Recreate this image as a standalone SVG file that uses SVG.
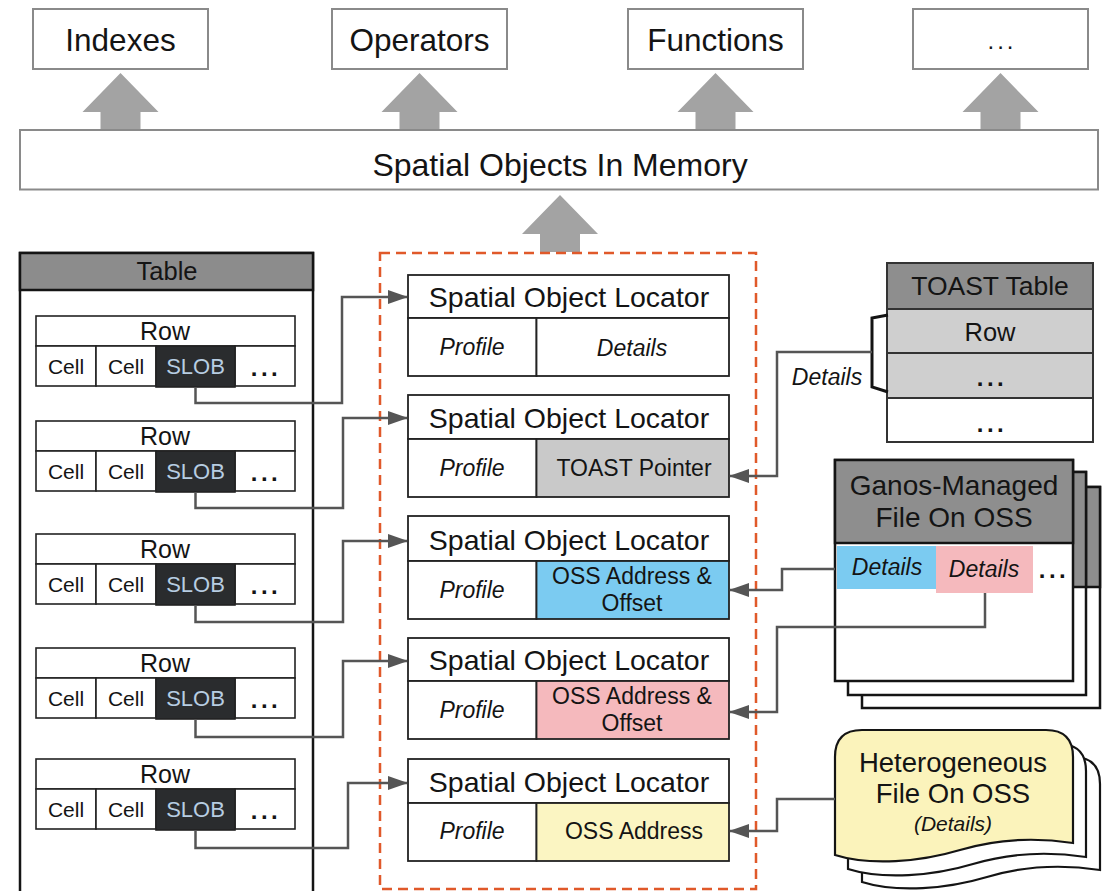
<svg xmlns="http://www.w3.org/2000/svg" width="1102" height="891" viewBox="0 0 1102 891">
  <style>
    text { font-family: "Liberation Sans", Arial, sans-serif; fill: #141414; text-anchor: middle; }
    .top { fill: #fff; stroke: #8a8a8a; stroke-width: 2; }
    .lbl { font-size: 31.5px; }
    .big { fill: #a3a3a3; }
    .tbl { fill: #fff; stroke: #141414; stroke-width: 2.5; }
    .hdr { fill: #8c8c8c; stroke: #141414; stroke-width: 2.5; }
    .cell { fill: #fff; stroke: #222; stroke-width: 1.6; }
    .slob { fill: #2a2c2e; stroke: #222; stroke-width: 1.6; }
    .rowt { font-size: 25px; }
    .cellt { font-size: 21px; }
    .dots { font-size: 24px; letter-spacing: 3.5px; font-weight: bold; }
    .slobt { font-size: 22px; fill: #b7cde2; }
    .loc { fill: #fff; stroke: #222; stroke-width: 1.8; }
    .loct { font-size: 28.5px; }
    .it { font-style: italic; font-size: 23px; }
    .mid { font-size: 23px; }
    .conn { fill: none; stroke: #555; stroke-width: 2.5; }
    .dash { fill: none; stroke: #e0592a; stroke-width: 2.5; stroke-dasharray: 10 6; }
    .dk { stroke: #141414; stroke-width: 2.5; }
  </style>
  <defs>
    <marker id="ah" markerUnits="userSpaceOnUse" viewBox="0 0 20 14" refX="19" refY="7" markerWidth="20" markerHeight="14" orient="auto">
      <path d="M0,0 L20,7 L0,14 Z" fill="#555"/>
    </marker>
    <!-- block arrow pointing up, tip at (0,0) -->
    <polygon id="up" class="big" points="0,0 38,39 20,39 20,57 -20,57 -20,39 -38,39"/>
    <path id="doc" d="M835,757 Q835,730 862,730 H1046 Q1073,730 1073,757 V843 C1040,838 1000,838 960,850 C920,862 870,866 835,855 Z"/>
  </defs>

  <!-- consumers of in-memory objects -->
  <g id="indexes">
    <rect class="top" x="33" y="9" width="175" height="60"/>
    <text class="lbl" x="120.5" y="51">Indexes</text>
  </g>
  <g id="operators">
    <rect class="top" x="332" y="9" width="175" height="60"/>
    <text class="lbl" x="419.5" y="51">Operators</text>
  </g>
  <g id="functions">
    <rect class="top" x="628" y="9" width="175" height="60"/>
    <text class="lbl" x="715.5" y="51">Functions</text>
  </g>
  <g id="more">
    <rect class="top" x="913" y="9" width="175" height="60"/>
    <text x="1002" y="49" font-size="24" letter-spacing="3">...</text>
  </g>

  <g id="block-arrows">
    <use href="#up" x="120.5" y="73"/>
    <use href="#up" x="419.5" y="73"/>
    <use href="#up" x="715.5" y="73"/>
    <use href="#up" x="1000.5" y="73"/>
    <use href="#up" x="560" y="195"/>
  </g>

  <g id="memory">
    <rect class="top" x="20" y="130" width="1078" height="59.5"/>
    <text x="560" y="176" font-size="32">Spatial Objects In Memory</text>
  </g>

  <!-- main table with rows -->
  <g id="table">
    <rect class="tbl" x="20" y="253" width="293" height="650"/>
    <rect class="hdr" x="20" y="253" width="293" height="37"/>
    <text x="167" y="280" font-size="25.5">Table</text>
  </g>
  <g id="row1" transform="translate(0,316)">
    <rect class="cell" x="36" y="0" width="259" height="30"/>
    <rect class="cell" x="36" y="30" width="60" height="40"/>
    <rect class="cell" x="96" y="30" width="60" height="40"/>
    <rect class="cell" x="235" y="30" width="60" height="40"/>
    <rect class="slob" x="156" y="30" width="79" height="41"/>
    <text class="rowt" x="165" y="23.5">Row</text>
    <text class="cellt" x="66" y="58">Cell</text>
    <text class="cellt" x="126" y="58">Cell</text>
    <text class="slobt" x="195.5" y="58">SLOB</text>
    <text class="dots" x="266" y="60">...</text>
  </g>
  <g id="row2" transform="translate(0,421)">
    <rect class="cell" x="36" y="0" width="259" height="30"/>
    <rect class="cell" x="36" y="30" width="60" height="40"/>
    <rect class="cell" x="96" y="30" width="60" height="40"/>
    <rect class="cell" x="235" y="30" width="60" height="40"/>
    <rect class="slob" x="156" y="30" width="79" height="41"/>
    <text class="rowt" x="165" y="23.5">Row</text>
    <text class="cellt" x="66" y="58">Cell</text>
    <text class="cellt" x="126" y="58">Cell</text>
    <text class="slobt" x="195.5" y="58">SLOB</text>
    <text class="dots" x="266" y="60">...</text>
  </g>
  <g id="row3" transform="translate(0,534)">
    <rect class="cell" x="36" y="0" width="259" height="30"/>
    <rect class="cell" x="36" y="30" width="60" height="40"/>
    <rect class="cell" x="96" y="30" width="60" height="40"/>
    <rect class="cell" x="235" y="30" width="60" height="40"/>
    <rect class="slob" x="156" y="30" width="79" height="41"/>
    <text class="rowt" x="165" y="23.5">Row</text>
    <text class="cellt" x="66" y="58">Cell</text>
    <text class="cellt" x="126" y="58">Cell</text>
    <text class="slobt" x="195.5" y="58">SLOB</text>
    <text class="dots" x="266" y="60">...</text>
  </g>
  <g id="row4" transform="translate(0,648)">
    <rect class="cell" x="36" y="0" width="259" height="30"/>
    <rect class="cell" x="36" y="30" width="60" height="40"/>
    <rect class="cell" x="96" y="30" width="60" height="40"/>
    <rect class="cell" x="235" y="30" width="60" height="40"/>
    <rect class="slob" x="156" y="30" width="79" height="41"/>
    <text class="rowt" x="165" y="23.5">Row</text>
    <text class="cellt" x="66" y="58">Cell</text>
    <text class="cellt" x="126" y="58">Cell</text>
    <text class="slobt" x="195.5" y="58">SLOB</text>
    <text class="dots" x="266" y="60">...</text>
  </g>
  <g id="row5" transform="translate(0,759)">
    <rect class="cell" x="36" y="0" width="259" height="30"/>
    <rect class="cell" x="36" y="30" width="60" height="40"/>
    <rect class="cell" x="96" y="30" width="60" height="40"/>
    <rect class="cell" x="235" y="30" width="60" height="40"/>
    <rect class="slob" x="156" y="30" width="79" height="41"/>
    <text class="rowt" x="165" y="23.5">Row</text>
    <text class="cellt" x="66" y="58">Cell</text>
    <text class="cellt" x="126" y="58">Cell</text>
    <text class="slobt" x="195.5" y="58">SLOB</text>
    <text class="dots" x="266" y="60">...</text>
  </g>

  <!-- locator group -->
  <rect id="locator-group" class="dash" x="380" y="253" width="376" height="636"/>

  <g id="locator1">
    <rect class="loc" x="408" y="275" width="321" height="43"/>
    <rect class="loc" x="408" y="318" width="128.5" height="58"/>
    <rect class="loc" x="536.5" y="318" width="192.5" height="58"/>
    <text class="loct" x="569" y="307">Spatial Object Locator</text>
    <text class="it" x="472" y="355">Profile</text>
    <text class="it" x="632" y="356">Details</text>
  </g>
  <g id="locator2">
    <rect class="loc" x="408" y="395" width="321" height="44"/>
    <rect class="loc" x="408" y="439" width="128.5" height="58"/>
    <rect class="loc" x="536.5" y="439" width="192.5" height="58" style="fill:#c9c9c9"/>
    <text class="loct" x="569" y="428">Spatial Object Locator</text>
    <text class="it" x="472" y="476">Profile</text>
    <text class="mid" x="634" y="476">TOAST Pointer</text>
  </g>
  <g id="locator3">
    <rect class="loc" x="408" y="516" width="321" height="45"/>
    <rect class="loc" x="408" y="561" width="128.5" height="58"/>
    <rect class="loc" x="536.5" y="561" width="192.5" height="58" style="fill:#7bcbf1"/>
    <text class="loct" x="569" y="550">Spatial Object Locator</text>
    <text class="it" x="472" y="598">Profile</text>
    <text class="mid" x="632" y="584">OSS Address &amp;</text>
    <text class="mid" x="632" y="611">Offset</text>
  </g>
  <g id="locator4">
    <rect class="loc" x="408" y="638" width="321" height="43"/>
    <rect class="loc" x="408" y="681" width="128.5" height="58"/>
    <rect class="loc" x="536.5" y="681" width="192.5" height="58" style="fill:#f5b9bd"/>
    <text class="loct" x="569" y="670">Spatial Object Locator</text>
    <text class="it" x="472" y="718">Profile</text>
    <text class="mid" x="632" y="704">OSS Address &amp;</text>
    <text class="mid" x="632" y="731">Offset</text>
  </g>
  <g id="locator5">
    <rect class="loc" x="408" y="759" width="321" height="44"/>
    <rect class="loc" x="408" y="803" width="128.5" height="58"/>
    <rect class="loc" x="536.5" y="803" width="192.5" height="58" style="fill:#fbf5c2"/>
    <text class="loct" x="569" y="792">Spatial Object Locator</text>
    <text class="it" x="472" y="839">Profile</text>
    <text class="mid" x="634" y="839">OSS Address</text>
  </g>

  <!-- TOAST table -->
  <g id="toast">
    <rect x="887" y="263" width="206" height="46" fill="#8e8e8e" stroke="#333" stroke-width="2"/>
    <rect x="887" y="309" width="206" height="44" fill="#cfcfcf" stroke="#333" stroke-width="2"/>
    <rect x="887" y="353" width="206" height="45" fill="#cfcfcf" stroke="#333" stroke-width="2"/>
    <rect x="887" y="398" width="206" height="44" fill="#fff" stroke="#333" stroke-width="2"/>
    <text x="990" y="295" font-size="26.5">TOAST Table</text>
    <text x="990" y="341" font-size="25.5">Row</text>
    <text class="dots" x="992" y="386">...</text>
    <text class="dots" x="992" y="432">...</text>
    <path d="M888,315 L872,318 V387 L888,392" fill="none" stroke="#141414" stroke-width="3"/>
    <text class="it" x="827" y="385">Details</text>
  </g>

  <!-- Ganos-managed files, stacked -->
  <g id="ganos-file">
    <rect x="862" y="487" width="238" height="221" fill="#fff" class="dk"/>
    <rect x="862" y="487" width="238" height="100" fill="#8e8e8e" class="dk"/>
    <rect x="848" y="472" width="238" height="223" fill="#fff" class="dk"/>
    <rect x="848" y="472" width="238" height="115" fill="#8e8e8e" class="dk"/>
    <rect x="835" y="460" width="238" height="221" fill="#fff" class="dk"/>
    <rect x="835" y="460" width="238" height="83" fill="#8e8e8e" class="dk"/>
    <rect x="837" y="546" width="99" height="43" fill="#7bcbf1"/>
    <rect x="936" y="546" width="97" height="47" fill="#f5b9bd"/>
    <text x="954" y="495" font-size="28">Ganos-Managed</text>
    <text x="954" y="527" font-size="28">File On OSS</text>
    <text class="it" x="887" y="575">Details</text>
    <text class="it" x="984" y="577">Details</text>
    <text class="dots" x="1054" y="578">...</text>
  </g>

  <!-- heterogeneous files, stacked document shapes -->
  <g id="hetero-file">
    <use href="#doc" transform="translate(27,27)" fill="#fff" stroke="#141414" stroke-width="2.2"/>
    <use href="#doc" transform="translate(13,14)" fill="#fff" stroke="#141414" stroke-width="2.2"/>
    <use href="#doc" fill="#fbf3bb" stroke="#141414" stroke-width="2.2"/>
    <text x="953" y="772" font-size="27.5">Heterogeneous</text>
    <text x="953" y="803" font-size="27.5">File On OSS</text>
    <text x="953" y="831" font-size="21" font-style="italic">(Details)</text>
  </g>

  <!-- connectors -->
  <g id="connectors">
    <path class="conn" marker-end="url(#ah)" d="M195.5,387 V403 H342 V297 H407"/>
    <path class="conn" marker-end="url(#ah)" d="M195.5,492 V508 H343 V418 H407"/>
    <path class="conn" marker-end="url(#ah)" d="M195.5,605 V622 H343 V541 H407"/>
    <path class="conn" marker-end="url(#ah)" d="M195.5,719 V737 H343 V661 H407"/>
    <path class="conn" marker-end="url(#ah)" d="M195.5,830 V848 H348 V783 H407"/>
    <path class="conn" marker-end="url(#ah)" d="M872,352 H777 V476 H730"/>
    <path class="conn" marker-end="url(#ah)" d="M835,569 H782 V590 H730"/>
    <path class="conn" marker-end="url(#ah)" d="M985,593 V627 H777 V712 H730"/>
    <path class="conn" marker-end="url(#ah)" d="M835,799 H777 V831 H730"/>
  </g>
</svg>
